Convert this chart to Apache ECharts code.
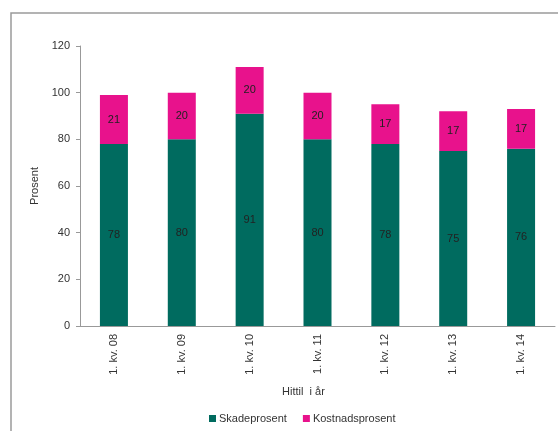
<!DOCTYPE html>
<html><head><meta charset="utf-8">
<script src="https://cdn.jsdelivr.net/npm/echarts@6/dist/echarts.min.js"></script>
<style>html,body{margin:0;padding:0;background:#fff}#c{width:558px;height:431px}</style>
</head><body><div id="c"></div>
<script>
var categories = ['1. kv. 08','1. kv. 09','1. kv. 10','1. kv. 11','1. kv. 12','1. kv. 13','1. kv. 14'];
var skadeprosent = [78, 80, 91, 80, 78, 75, 76];
var kostnadsprosent = [21, 20, 20, 20, 17, 17, 17];
var yTicks = [0, 20, 40, 60, 80, 100, 120];

var chart = echarts.init(document.getElementById('c'));
var font = 'Liberation Sans, Arial, sans-serif';
var labelStyle = {show: true, position: 'inside', color: '#222', fontSize: 11, fontFamily: font};
chart.setOption({
  animation: false,
  textStyle: {fontFamily: font},
  graphic: [{type: 'rect', shape: {x: 11, y: 13, width: 600, height: 500}, style: {fill: 'none', stroke: '#9a9a9a', lineWidth: 1.5}}],
  grid: {left: 80, right: 3, top: 46, bottom: 105},
  legend: {top: 408, left: 204, itemWidth: 7, itemHeight: 7, itemGap: 16, icon: 'rect',
    textStyle: {fontSize: 11, color: '#333', fontFamily: font, padding: [0, 0, 0, -2]}, data: ['Skadeprosent','Kostnadsprosent']},
  xAxis: {type: 'category', data: categories, name: 'Hittil  i år', nameLocation: 'middle', nameGap: 60,
    nameTextStyle: {fontSize: 11, color: '#333', padding: [0, 28, 0, 0]},
    axisLine: {lineStyle: {color: '#999'}}, axisTick: {lineStyle: {color: '#999'}, length: 4},
    axisLabel: {rotate: 90, fontSize: 11, color: '#333', margin: 8}},
  yAxis: {type: 'value', min: yTicks[0], max: yTicks[yTicks.length-1], interval: 20, name: 'Prosent',
    nameLocation: 'middle', nameGap: 33, nameTextStyle: {fontSize: 11, color: '#333'},
    axisLine: {show: true, lineStyle: {color: '#999'}}, axisTick: {show: true, lineStyle: {color: '#999'}, length: 4},
    splitLine: {show: false}, axisLabel: {fontSize: 11, color: '#333', margin: 10}},
  series: [
    {name: 'Skadeprosent', type: 'bar', stack: 's', data: skadeprosent, barWidth: 28,
     itemStyle: {color: '#006B5F'}, label: labelStyle},
    {name: 'Kostnadsprosent', type: 'bar', stack: 's', data: kostnadsprosent, barWidth: 28,
     itemStyle: {color: '#E8128C'}, label: labelStyle}
  ]
});
</script></body></html>
